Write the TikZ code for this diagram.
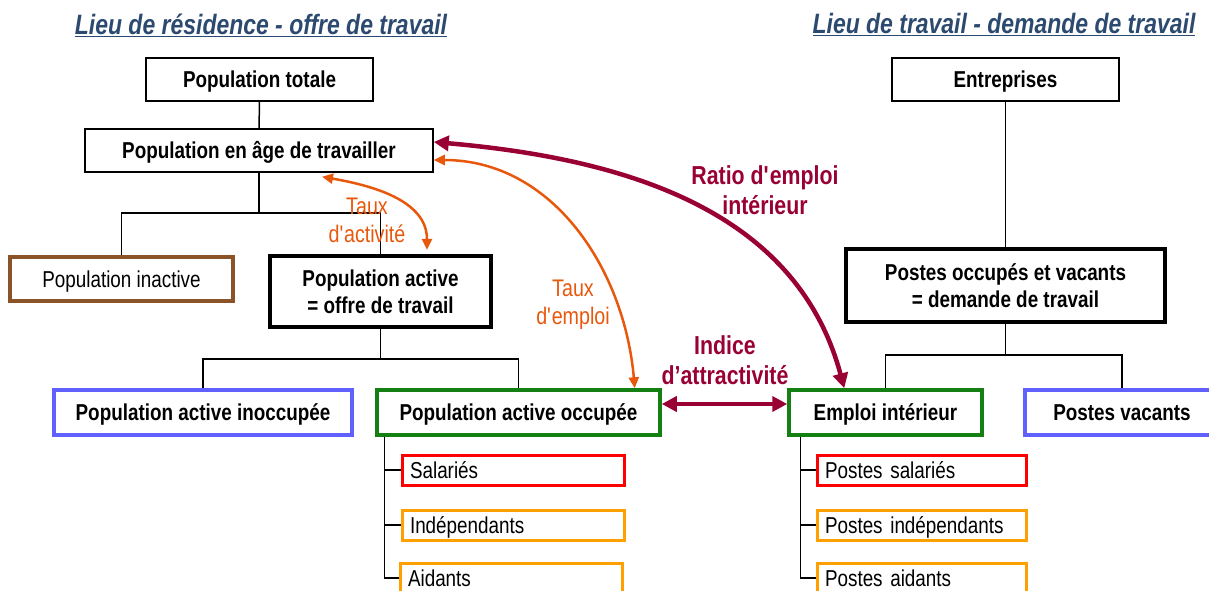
\documentclass[tikz,border=0pt]{standalone}
\usepackage{fontspec}
\setmainfont[FakeStretch=0.82]{Liberation Sans}
\usetikzlibrary{arrows.meta}

\definecolor{titleblue}{RGB}{44,74,112}
\definecolor{ratiored}{RGB}{153,0,51}
\definecolor{tauxorange}{RGB}{232,88,12}
\definecolor{inactbrown}{RGB}{139,83,40}
\definecolor{inoccblue}{RGB}{96,96,255}
\definecolor{occgreen}{RGB}{20,128,20}
\definecolor{salred}{RGB}{255,0,0}
\definecolor{indorange}{RGB}{255,160,0}

\begin{document}
\begin{tikzpicture}[x=1pt, y=1pt,
    box/.style={draw, line width=1.5pt, inner sep=0pt, align=center,
      font=\fontsize{23}{27}\selectfont\bfseries},
    oneline/.style={text height=16.5pt, text depth=0pt},
    thickbox/.style={box, line width=4.5pt},
    colbox/.style={box, oneline, draw=#1, line width=3.5pt},
    subbox/.style={draw=#1, oneline, line width=3pt, inner xsep=8pt, inner ysep=0pt,
      minimum height=30pt, align=left, font=\fontsize{23}{27}\selectfont},
    tree/.style={line width=1.5pt},
    title/.style={text=titleblue, font=\fontsize{28}{30}\selectfont\bfseries\itshape},
    tauxlabel/.style={text=tauxorange, align=center, font=\fontsize{24}{28}\selectfont},
    ratiolabel/.style={text=ratiored, align=center, font=\fontsize{26}{30}\selectfont\bfseries},
    tauxarrow/.style={draw=tauxorange, line width=2.5pt,
      {Triangle[length=11pt,width=10pt]}-{Triangle[length=11pt,width=10pt]}},
    ratioarrow/.style={draw=ratiored, line width=4.5pt,
      {Triangle[length=15pt,width=15pt]}-{Triangle[length=15pt,width=15pt]}}]
\useasboundingbox (0,0) rectangle (1209,590);

% titres
\node[title] (tres) at (261,565) {\underline{Lieu de résidence - offre de travail}};
\node[title] (ttrav) at (1004,565) {\underline{Lieu de travail - demande de travail}};

% lieu de residence
\node[box, oneline, minimum width=227pt, minimum height=43pt] (popt) at (259.5,510.5) {Population totale};
\node[box, oneline, minimum width=348pt, minimum height=43pt] (popage) at (259,439.5) {Population en âge de travailler};
\node[colbox=inactbrown, minimum width=223pt, minimum height=44pt, font=\fontsize{23}{27}\selectfont] (popina) at (121.5,311) {Population inactive};
\node[thickbox, minimum width=221pt, minimum height=71pt] (popact) at (380.5,298.5) {Population active\\= offre de travail};
\node[colbox=inoccblue, minimum width=298pt, minimum height=45pt] (popino) at (203,177.5) {Population active inoccupée};
\node[colbox=occgreen, minimum width=283pt, minimum height=45pt] (popocc) at (518.5,177.5) {Population active occupée};
\node[subbox=salred, text width=206pt] (sal) at (513,120) {Salariés};
\node[subbox=indorange, text width=206pt] (ind) at (513,65) {Indépendants};
\node[subbox=indorange, text width=206pt] (aid) at (511,12) {Aidants};

% lieu de travail
\node[box, oneline, minimum width=227pt, minimum height=43pt] (entr) at (1005.5,510.5) {Entreprises};
\node[thickbox, minimum width=319pt, minimum height=73pt] (postes) at (1005.5,304.5) {Postes occupés et vacants\\= demande de travail};
\node[colbox=occgreen, minimum width=193pt, minimum height=45pt] (empl) at (885.5,177.5) {Emploi intérieur};
\node[colbox=inoccblue, minimum width=194pt, minimum height=45pt] (vac) at (1122,177.5) {Postes vacants};
\node[subbox=salred, text width=193pt] (psal) at (921.5,120) {Postes salariés};
\node[subbox=indorange, text width=193pt] (pind) at (921.5,65) {Postes indépendants};
\node[subbox=indorange, text width=193pt] (paid) at (921.5,12) {Postes aidants};

% arbres
\coordinate (j1) at (259,377);
\coordinate (j2) at (380.5,231);
\coordinate (j3) at (1005.5,235);
\draw[tree] (popt) -- (popage);
\draw[tree] (popage) -- (j1);
\draw[tree] (popina.north) |- (j1) -| (popact.north);
\draw[tree] (popact) -- (j2);
\draw[tree] (popino.north) |- (j2) -| (popocc.north);
\draw[tree] ([xshift=9pt]popocc.south west) |- (aid.west);
\draw[tree] ([xshift=9pt]popocc.south west) |- (sal.west);
\draw[tree] ([xshift=9pt]popocc.south west) |- (ind.west);
\draw[tree] (entr) -- (postes);
\draw[tree] (postes) -- (j3);
\draw[tree] (empl.north) |- (j3) -| (vac.north);
\draw[tree] ([xshift=13pt]empl.south west) |- (paid.west);
\draw[tree] ([xshift=13pt]empl.south west) |- (psal.west);
\draw[tree] ([xshift=13pt]empl.south west) |- (pind.west);

% taux
\draw[tauxarrow] ([xshift=63pt,yshift=-4pt]popage.south) to[out=-10,in=90] ([xshift=46.5pt,yshift=4pt]popact.north);
\node[tauxlabel] (lact) at (367,370) {Taux\\d\textquotesingle activité};
\draw[tauxarrow] ([yshift=-9.5pt]popage.east) to[out=0,in=95] ([xshift=-27pt]popocc.north east);
\node[tauxlabel] (lemp) at (573,285) {Taux\\d\textquotesingle emploi};
\draw[ratioarrow] ([yshift=8.5pt]popage.east) to[out=-5,in=105] ([xshift=57pt]empl.north west);
\node[ratiolabel] (lratio) at (765,400) {Ratio d\textquotesingle emploi\\intérieur};
\draw[ratioarrow] ([yshift=8.5pt]popocc.east) -- ([yshift=8.5pt]empl.west);
\node[ratiolabel] (lind) at (725,230) {Indice\\d’attractivité};
\end{tikzpicture}
\end{document}
